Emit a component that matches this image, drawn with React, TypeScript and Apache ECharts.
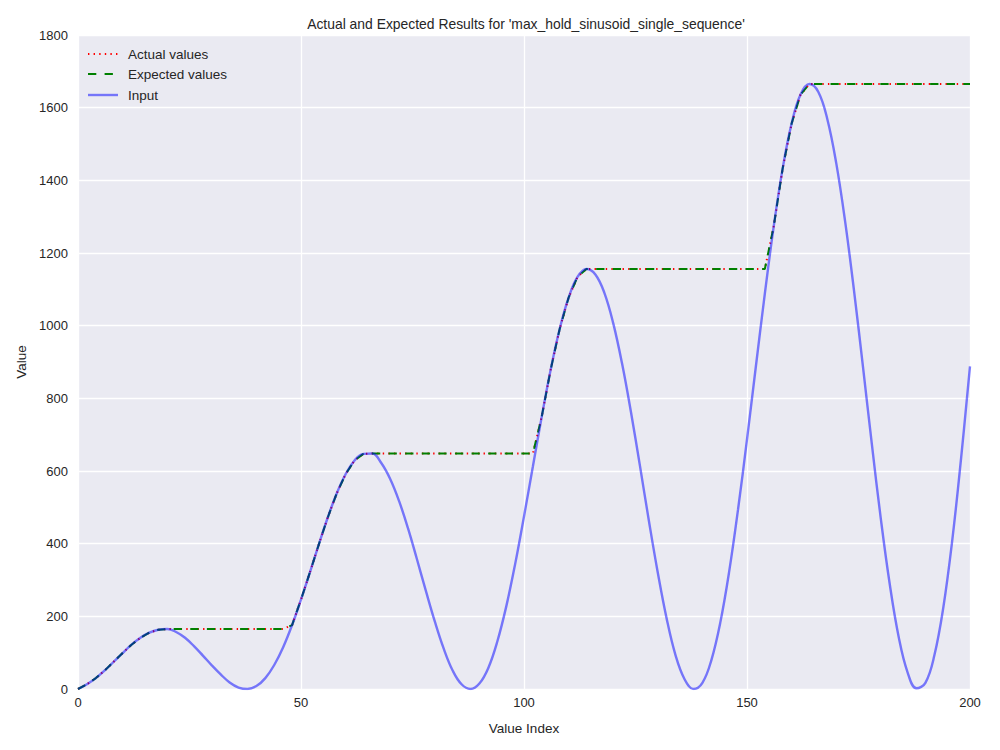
import React, { useEffect, useRef } from "react";
import * as echarts from "echarts";

const xIndex = [
  0, 2, 4, 6, 8, 10, 12, 14, 16, 18,
  20, 22, 24, 26, 28, 30, 32, 34, 36, 38,
  40, 42, 44, 46, 48, 50, 52, 54, 56, 58,
  60, 62, 64, 66, 68, 70, 72, 74, 76, 78,
  80, 82, 84, 86, 88, 90, 92, 94, 96, 98,
  100, 102, 104, 106, 108, 110, 112, 114, 116, 118,
  120, 122, 124, 126, 128, 130, 132, 134, 136, 138,
  140, 142, 144, 146, 148, 150, 152, 154, 156, 158,
  160, 162, 164, 166, 168, 170, 172, 174, 176, 178,
  180, 182, 184, 186, 188, 190, 192, 194, 196, 198,
  200,
];

const inputValues = [
  0, 13, 30, 51, 75, 99, 122, 141, 155, 163,
  165, 157, 141, 118, 92, 65, 40, 18, 4, 0,
  8, 30, 66, 115, 176, 246, 321, 398, 472, 538,
  591, 629, 647, 648, 622, 578, 517, 442, 357, 270,
  186, 111, 51, 13, 0, 15, 58, 130, 226, 343,
  475, 613, 751, 880, 991, 1077, 1134, 1156, 1141, 1091,
  1007, 895, 761, 614, 463, 320, 193, 92, 27, 0,
  17, 79, 182, 323, 495, 687, 889, 1088, 1274, 1433,
  1556, 1636, 1665, 1643, 1569, 1448, 1287, 1096, 887, 673,
  469, 289, 144, 46, 2, 17, 92, 223, 407, 635,
  888,
];

const actualValues = [
  0, 13, 30, 51, 75, 99, 122, 141, 155, 163,
  165, 165, 165, 165, 165, 165, 165, 165, 165, 165,
  165, 165, 165, 165, 176, 246, 321, 398, 472, 538,
  591, 629, 647, 648, 648, 648, 648, 648, 648, 648,
  648, 648, 648, 648, 648, 648, 648, 648, 648, 648,
  648, 648, 751, 880, 991, 1077, 1134, 1156, 1156, 1156,
  1156, 1156, 1156, 1156, 1156, 1156, 1156, 1156, 1156, 1156,
  1156, 1156, 1156, 1156, 1156, 1156, 1156, 1156, 1274, 1433,
  1556, 1636, 1665, 1665, 1665, 1665, 1665, 1665, 1665, 1665,
  1665, 1665, 1665, 1665, 1665, 1665, 1665, 1665, 1665, 1665,
  1665,
];

const expectedValues = [
  0, 13, 30, 51, 75, 99, 122, 141, 155, 163,
  165, 165, 165, 165, 165, 165, 165, 165, 165, 165,
  165, 165, 165, 165, 176, 246, 321, 398, 472, 538,
  591, 629, 647, 648, 648, 648, 648, 648, 648, 648,
  648, 648, 648, 648, 648, 648, 648, 648, 648, 648,
  648, 648, 751, 880, 991, 1077, 1134, 1156, 1156, 1156,
  1156, 1156, 1156, 1156, 1156, 1156, 1156, 1156, 1156, 1156,
  1156, 1156, 1156, 1156, 1156, 1156, 1156, 1156, 1274, 1433,
  1556, 1636, 1665, 1665, 1665, 1665, 1665, 1665, 1665, 1665,
  1665, 1665, 1665, 1665, 1665, 1665, 1665, 1665, 1665, 1665,
  1665,
];

const seriesNames = ["Actual values", "Expected values", "Input"];
const titleText = "Actual and Expected Results for 'max_hold_sinusoid_single_sequence'";

const pair = (ys: number[]) => ys.map((y, i) => [xIndex[i], y]);

const FONT = "'Liberation Sans', Arial, sans-serif";
const TXT = "#262626";
const RED = "#ff0000";
const GREEN = "#008000";
const BLUE = "rgba(0,0,255,0.5)";
const redDash = [1.4, 4.2];
const greenDash = [8.3, 8.3];

export default function App() {
  const ref = useRef<HTMLDivElement>(null);
  useEffect(() => {
    if (!ref.current) return;
    const chart = echarts.init(ref.current, null, { renderer: "svg" });
    const legendRows = [
      { y: 54, name: seriesNames[0], style: { stroke: RED, lineWidth: 2, lineDash: redDash } },
      { y: 74, name: seriesNames[1], style: { stroke: GREEN, lineWidth: 2, lineDash: greenDash } },
      { y: 95, name: seriesNames[2], style: { stroke: BLUE, lineWidth: 2.4 } },
    ];
    const graphic: any[] = [];
    legendRows.forEach((r) => {
      graphic.push({
        type: "line",
        shape: { x1: 88, y1: r.y, x2: 118, y2: r.y },
        style: r.style,
        z: 100,
      });
      graphic.push({
        type: "text",
        x: 128,
        y: r.y,
        style: {
          text: r.name,
          fill: TXT,
          font: `13.5px ${FONT}`,
          textVerticalAlign: "middle",
          verticalAlign: "middle",
        },
        z: 100,
      });
    });
    chart.setOption({
      animation: false,
      backgroundColor: "#ffffff",
      textStyle: { fontFamily: FONT },
      title: {
        text: titleText,
        left: 521,
        top: 12,
        textAlign: "center",
        textStyle: { fontSize: 13.9, fontWeight: "normal", color: TXT, fontFamily: FONT },
      },
      graphic,
      grid: {
        left: 78,
        top: 35,
        right: 30,
        bottom: 61,
        show: true,
        backgroundColor: "#EAEAF2",
        borderWidth: 0,
      },
      xAxis: {
        type: "value",
        min: 0,
        max: 200,
        interval: 50,
        name: "Value Index",
        nameLocation: "middle",
        nameGap: 32,
        nameTextStyle: { fontSize: 13.5, color: TXT, fontFamily: FONT },
        axisLine: { show: false },
        axisTick: { show: false },
        axisLabel: { fontSize: 13, color: TXT, margin: 7, fontFamily: FONT, formatter: (v: number) => String(v) },
        splitLine: { show: true, lineStyle: { color: "#ffffff", width: 1.3 } },
      },
      yAxis: {
        type: "value",
        min: 0,
        max: 1800,
        interval: 200,
        name: "Value",
        nameLocation: "middle",
        nameGap: 50,
        nameTextStyle: { fontSize: 13.5, color: TXT, fontFamily: FONT },
        axisLine: { show: false },
        axisTick: { show: false },
        axisLabel: { fontSize: 13, color: TXT, margin: 10, fontFamily: FONT, formatter: (v: number) => String(v) },
        splitLine: { show: true, lineStyle: { color: "#ffffff", width: 1.3 } },
      },
      series: [
        {
          name: seriesNames[0],
          type: "line",
          data: pair(actualValues),
          showSymbol: false,
          symbol: "none",
          lineStyle: { color: RED, width: 2, type: redDash },
          itemStyle: { color: RED },
          z: 2,
        },
        {
          name: seriesNames[1],
          type: "line",
          data: pair(expectedValues),
          showSymbol: false,
          symbol: "none",
          lineStyle: { color: GREEN, width: 2, type: greenDash },
          itemStyle: { color: GREEN },
          z: 3,
        },
        {
          name: seriesNames[2],
          type: "line",
          data: pair(inputValues),
          showSymbol: false,
          symbol: "none",
          smooth: 0.4,
          lineStyle: { color: BLUE, width: 2.4 },
          itemStyle: { color: BLUE },
          z: 4,
        },
      ],
    });
    return () => chart.dispose();
  }, []);
  return (
    <div
      ref={ref}
      style={{ position: "fixed", left: 0, top: 0, width: 1000, height: 750 }}
    />
  );
}
